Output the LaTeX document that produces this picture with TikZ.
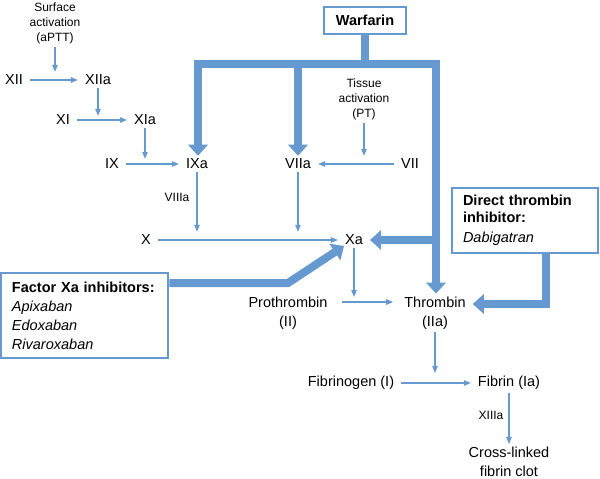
\documentclass[tikz,border=0pt]{standalone}
\usepackage{fontspec}
\setmainfont{Liberation Sans}
\usetikzlibrary{arrows.meta}
\definecolor{cblue}{RGB}{102,153,207}
\newcommand\mainsz{\fontsize{14.5}{19}\selectfont}
\newcommand\smsz{\fontsize{12}{15}\selectfont}
\tikzset{
  BigTri/.tip={Triangle[length=11pt,width=20pt,line width=0pt]},
  lbl/.style={font=\mainsz, inner xsep=7pt, inner ysep=3pt, align=center},
  slbl/.style={font=\smsz, inner sep=3pt, align=center},
  box/.style={draw=cblue, line width=2.5pt, font=\mainsz, align=left, inner xsep=11pt},
  thn/.style={draw=cblue, line width=1.1pt, -{Triangle[length=7pt,width=5.5pt]}},
  thk/.style={draw=cblue, line width=8pt, line join=miter}
}
\begin{document}
\begin{tikzpicture}[x=1pt,y=-1pt]
\useasboundingbox (0,0) rectangle (600,479);
% text nodes
\node[slbl] (Surf) at (55,23) {Surface\\activation\\(aPTT)};
\node[slbl] (Tiss) at (364,99) {Tissue\\activation\\(PT)};
\node[slbl] (VIIIa) at (177,197) {VIIIa};
\node[slbl] (XIIIa) at (491,415) {XIIIa};
\node[lbl] (XII) at (14,80) {XII};
\node[lbl] (XIIa) at (98,80) {XIIa};
\node[lbl] (XI) at (63,120) {XI};
\node[lbl] (XIa) at (145,120) {XIa};
\node[lbl] (IX) at (112,164) {IX};
\node[lbl] (IXa) at (197,164) {IXa};
\node[lbl] (VIIa) at (298,164) {VIIa};
\node[lbl] (VII) at (410,164) {VII};
\node[lbl] (X) at (146,240) {X};
\node[lbl] (Xa) at (354,240) {Xa};
\node[lbl] (Pro) at (288,313) {Prothrombin\\(II)};
\node[lbl] (Thr) at (435,313) {Thrombin\\(IIa)};
\node[lbl] (Fbg) at (351,383) {Fibrinogen (I)};
\node[lbl] (Fib) at (509,383) {Fibrin (Ia)};
\node[lbl] (Clot) at (509,462) {Cross-linked\\fibrin clot};
% boxes
\node[box, font=\mainsz\bfseries, align=center, minimum width=82pt, minimum height=27pt, inner xsep=4pt] (W) at (365,20.5) {Warfarin};
\node[box, text width=145pt, minimum height=85pt] (FX) at (84.5,315.5) {\textbf{Factor Xa inhibitors:}\\\textit{Apixaban}\\\textit{Edoxaban}\\\textit{Rivaroxaban}};
\node[box, font=\fontsize{14.5}{17}\selectfont, text width=124pt, minimum height=65pt] (DT) at (525,220.5) {\textbf{Direct thrombin}\\\textbf{inhibitor:}\\[3pt]\textit{Dabigatran}};
% coordinates
\coordinate (wL) at (198,64);
\coordinate (wR) at (436,64);
\coordinate (wX) at (436,240);
\coordinate (fa) at (288,283);
\coordinate (fb) at (344,246);
\coordinate (dj) at (546,304);
\coordinate (prow) at (0,302);
% thin arrows
\draw[thn] (Surf.south) -- (Surf.south |- XII.north);
\draw[thn] (XII) -- (XIIa);
\draw[thn, shorten >=-4pt] (XIIa.south) -- (XIIa.south |- XI.north);
\draw[thn] (XI) -- (XIa);
\draw[thn, shorten >=-3pt] (XIa.south) -- (XIa.south |- IX.north);
\draw[thn] (IX) -- (IXa);
\draw[thn] (IXa.south) -- (IXa.south |- X.north);
\draw[thn] (VIIa.south) -- (VIIa.south |- X.north);
\draw[thn] (X) -- (Xa);
\draw[thn] (Tiss.south) -- (Tiss.south |- VII.north);
\draw[thn] (VII) -- (VIIa);
\draw[thn, shorten >=5pt] (Xa.south) -- (Xa.south |- prow);
\draw[thn, shorten <=7pt, shorten >=4pt] (Pro.east |- prow) -- (Thr.west |- prow);
\draw[thn] (Thr.south) -- (Thr.south |- Fbg.north);
\draw[thn] (Fbg) -- (Fib);
\draw[thn] (Fib.south) -- (Clot.north);
% thick connectors
\draw[thk] (W.south) -- (W.south |- wL);
\draw[thk, {BigTri}-{BigTri}] (wL |- IXa.north) -- (wL) -- (wR) -- (wR |- Thr.north);
\draw[thk, -{BigTri}] (VIIa.north |- wL) -- (VIIa.north);
\draw[thk, -{BigTri}] (wX) -- (Xa.east);
\draw[thk, -{BigTri}] (FX.east |- fa) -- (fa) -- (fb);
\draw[thk, -{BigTri}] (DT.south -| dj) -- (dj) -- (dj -| Thr.east);
\end{tikzpicture}
\end{document}
